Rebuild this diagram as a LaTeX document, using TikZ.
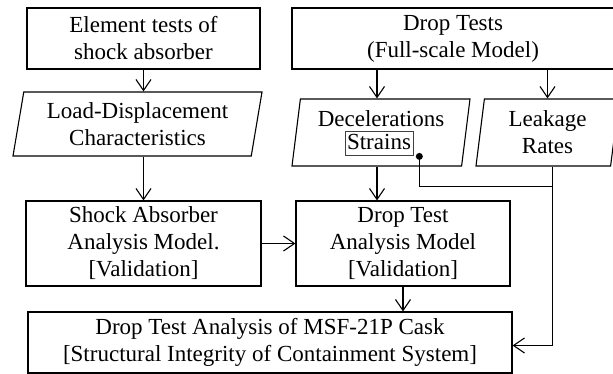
\documentclass[tikz,border=0pt]{standalone}
\usepackage{fontspec}
\setmainfont{Liberation Serif}
\usetikzlibrary{arrows.meta, shapes.geometric}

\begin{document}
\begin{tikzpicture}[x=1pt, y=-1pt, line width=1.1pt,
	box/.style={draw=black, rectangle, inner sep=0pt, align=center, font=\fontsize{23}{27}\selectfont},
	data/.style={draw=black, trapezium, trapezium stretches body, trapezium left angle=79, trapezium right angle=101, inner sep=0pt, align=center, font=\fontsize{23}{27}\selectfont},
	link/.style={-{Straight Barb[length=11pt, width=15pt]}}]
	\useasboundingbox (0,0) rectangle (613,374);
	% top row
	\node[box, minimum width=233pt, minimum height=61pt] (el) at (143.5, 38.5) {Element tests of\\shock absorber};
	\node[box, minimum width=330pt, minimum height=61pt] (dt) at (457, 38.5) {};
	\node[font=\fontsize{23}{27}\selectfont, align=center, inner sep=0pt] (dttx) at (453, 38.5) {Drop Tests\\(Full-scale Model)};
	% data
	\node[data, trapezium left angle=76, trapezium right angle=104, minimum width=249pt, minimum height=64pt] (ld) at (137.5, 124) {Load-Displacement\\Characteristics};
	\node[data, minimum width=178pt, minimum height=67pt] (dc) at (381, 132.5) {Decelerations\\\phantom{Strains}};
	\node[draw=black!75, line width=0.8pt, inner xsep=2pt, inner ysep=0pt, minimum height=24pt, text depth=3pt, font=\fontsize{23}{27}\selectfont] (st) at (379, 143) {Strains};
	\node[circle, fill=black, inner sep=0pt, minimum size=7pt] (sd) at ([shift={(6pt,-1pt)}]st.south east) {};
	\node[data, minimum width=143pt, minimum height=67pt] (lk) at (547.5, 132.5) {Leakage\\Rates};
	% models
	\node[box, minimum width=235pt, minimum height=85pt] (sa) at (143.5, 243.5) {Shock Absorber\\Analysis Model.\\{[Validation]}};
	\node[box, minimum width=214pt, minimum height=85pt] (dm) at (403, 243.5) {Drop Test\\Analysis Model\\{[Validation]}};
	\node[box, minimum width=484pt, minimum height=61pt] (fin) at (270, 342.5) {Drop Test Analysis of MSF-21P Cask\\{[Structural Integrity of Containment System]}};
	\coordinate (jn) at ([xshift=5pt, yshift=-20pt]lk.south);
	\draw[link] (el.south) -- (el.south |- ld.north);
	\draw[link] (sa.north |- ld.south) -- (sa.north);
	\draw[link] ([xshift=-4pt]dc.north |- dt.south) -- ([xshift=-4pt]dc.north);
	\draw[link] (lk.north |- dt.south) -- (lk.north);
	\draw[link] ([xshift=-4pt]dc.south) -- ([xshift=-4pt]dc.south |- dm.north);
	\draw[link] (sa.east) -- (dm.west);
	\draw[link] (dm.south) -- (dm.south |- fin.north);
	\draw[link] ([xshift=5pt]lk.south) |- ([yshift=-3pt]fin.east);
	\draw (sd.center) |- (jn);
\end{tikzpicture}
\end{document}
